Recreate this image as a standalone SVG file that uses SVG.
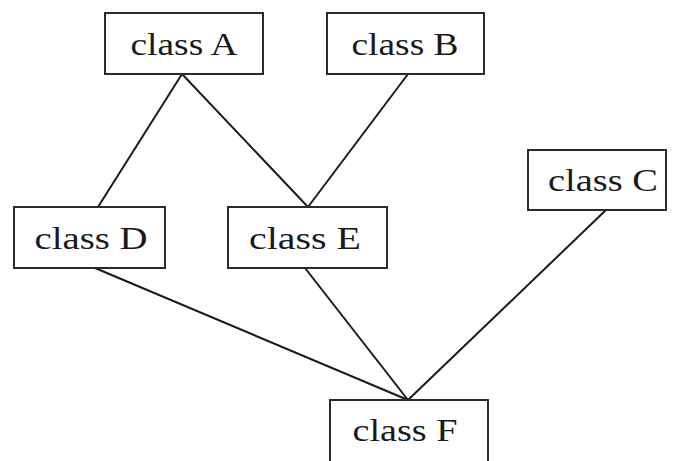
<svg xmlns="http://www.w3.org/2000/svg" width="677" height="461" viewBox="0 0 677 461">
<style>
.box{fill:#fff;stroke:#2a2a2a;stroke-width:2}
.lbl{font-family:"Liberation Serif","Times New Roman",serif;font-size:31px;fill:#1a1a1a;text-anchor:middle}
.edge{stroke:#1a1a1a;stroke-width:2;fill:none}
</style>
<rect width="677" height="461" fill="#fff"/>
<g id="connectors">
<line class="edge" x1="182" y1="74" x2="98" y2="207"/>
<line class="edge" x1="182" y1="74" x2="308" y2="207"/>
<line class="edge" x1="408" y1="74" x2="308" y2="207"/>
<line class="edge" x1="606" y1="210" x2="408" y2="400"/>
<line class="edge" x1="95" y1="268" x2="408" y2="400"/>
<line class="edge" x1="305" y1="268" x2="408" y2="400"/>
</g>
<g id="classA"><rect class="box" x="105" y="13" width="158" height="61"/><text class="lbl" x="184" y="55" textLength="107" lengthAdjust="spacingAndGlyphs">class A</text></g>
<g id="classB"><rect class="box" x="327" y="13" width="157" height="61"/><text class="lbl" x="405" y="55" textLength="107" lengthAdjust="spacingAndGlyphs">class B</text></g>
<g id="classC"><rect class="box" x="528" y="150" width="138" height="60"/><text class="lbl" x="603" y="191" textLength="110" lengthAdjust="spacingAndGlyphs">class C</text></g>
<g id="classD"><rect class="box" x="14" y="207" width="151" height="61"/><text class="lbl" x="91" y="249" textLength="113" lengthAdjust="spacingAndGlyphs">class D</text></g>
<g id="classE"><rect class="box" x="228" y="207" width="159" height="61"/><text class="lbl" x="305" y="249" textLength="112" lengthAdjust="spacingAndGlyphs">class E</text></g>
<g id="classF"><rect class="box" x="330" y="400" width="158" height="62"/><text class="lbl" x="405" y="441" textLength="105" lengthAdjust="spacingAndGlyphs">class F</text></g>
</svg>
